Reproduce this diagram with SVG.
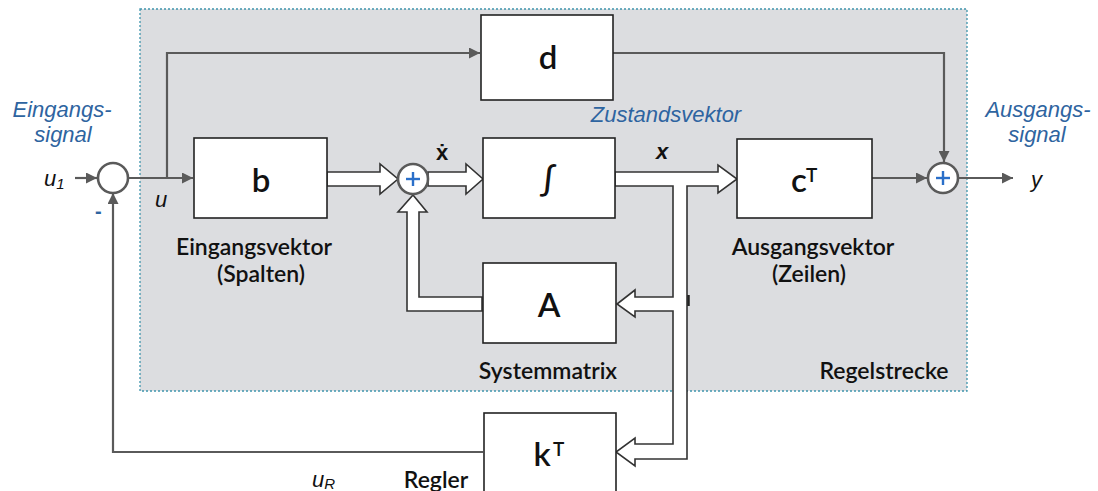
<svg xmlns="http://www.w3.org/2000/svg" width="1098" height="491" viewBox="0 0 1098 491">
<style>
.box{fill:#fff;stroke:#222;stroke-width:1.6}
.ln{fill:none;stroke:#5a5a5a;stroke-width:2.2}
.wide{fill:#fff;stroke:#333;stroke-width:1.6;stroke-linejoin:miter}
.sum{fill:#fff;stroke:#5a5a5a;stroke-width:2.6}
.plus{stroke:#2a6fc9;stroke-width:2.4}
.blue{font-family:"Liberation Sans",Arial,sans-serif;font-style:italic;font-size:22px;fill:#2e64a0;text-anchor:middle}
.var{font-family:"Liberation Sans",Arial,sans-serif;font-style:italic;font-size:22px;fill:#111}
.cap{font-family:Lato,"Open Sans",sans-serif;font-size:23px;fill:#111;text-anchor:middle;font-weight:600}
.big{font-family:Lato,"Open Sans",sans-serif;font-size:33px;fill:#111;text-anchor:middle;font-weight:600}
</style>
<defs>
<marker id="ah" viewBox="0 0 10 10" refX="10" refY="5" markerWidth="11" markerHeight="11" markerUnits="userSpaceOnUse" orient="auto">
<path d="M0,0 L10,5 L0,10 z" fill="#5a5a5a"/>
</marker>
</defs>
<rect x="140" y="9" width="827" height="382" fill="#dcdde0" stroke="#3f95ad" stroke-width="1.3" stroke-dasharray="2,2"/>

<g id="connectors">
<line class="ln" x1="75" y1="178" x2="97" y2="178" marker-end="url(#ah)"/>
<line class="ln" x1="127" y1="178" x2="193" y2="178" marker-end="url(#ah)"/>
<polyline class="ln" points="167,178 167,53 480,53" marker-end="url(#ah)"/>
<polyline class="ln" points="613,53 944,53 944,162" marker-end="url(#ah)"/>
<line class="ln" x1="872" y1="178" x2="927" y2="178" marker-end="url(#ah)"/>
<line class="ln" x1="958" y1="178" x2="1013" y2="178" marker-end="url(#ah)"/>
<polyline class="ln" points="483,452 113,452 113,193" marker-end="url(#ah)"/>
<path class="wide" d="M327,172 H380 V164 L398,179 L380,194 V186 H327 Z"/>
<path class="wide" d="M428,172 H466 V164 L483,179 L466,194 V186 H428 Z"/>
<path class="wide" d="M482,297 H419 V212 H427 L413,195 L398,212 H407 V311 H482 Z"/>
<path class="wide" d="M615,172 H718 V165 L737,179 L718,193 V186 H687 V459 H635 V466 L616,452 L635,438 V444 H673 V311 H635 V317 L617,304 L635,290 V297 H673 V186 H615 Z"/>
<line x1="688.5" y1="295" x2="688.5" y2="306" stroke="#222" stroke-width="2.5"/>
</g>

<g id="sum1">
<circle class="sum" cx="113" cy="178" r="15"/>
</g>
<g id="sum2">
<circle class="sum" cx="413" cy="179" r="15"/>
<line class="plus" x1="406" y1="179" x2="420" y2="179"/>
<line class="plus" x1="413" y1="172" x2="413" y2="186"/>
</g>
<g id="sum3">
<circle class="sum" cx="943" cy="178" r="15"/>
<line class="plus" x1="936" y1="178" x2="950" y2="178"/>
<line class="plus" x1="943" y1="171" x2="943" y2="185"/>
</g>

<g id="node-d">
<rect class="box" x="481" y="15" width="132" height="85"/>
<text class="big" x="548" y="69">d</text>
</g>
<g id="node-b">
<rect class="box" x="194" y="138" width="133" height="80"/>
<text class="big" x="261" y="192">b</text>
</g>
<g id="node-int">
<rect class="box" x="483" y="138" width="132" height="80"/>
<text class="big" x="548" y="191">∫</text>
</g>
<g id="node-c">
<rect class="box" x="737" y="139" width="135" height="79"/>
<text class="big" x="799" y="192">c</text>
<text x="806" y="182" style="font-family:Lato,sans-serif;font-size:19px;font-weight:600;fill:#111">T</text>
</g>
<g id="node-A">
<rect class="box" x="483" y="263" width="133" height="80"/>
<text class="big" x="549" y="317">A</text>
</g>
<g id="node-k">
<rect class="box" x="484" y="413" width="132" height="90"/>
<text class="big" x="542" y="466">k</text>
<text x="553" y="456" style="font-family:Lato,sans-serif;font-size:19px;font-weight:600;fill:#111">T</text>
</g>

<g id="labels">
<text class="blue" x="62" y="117">Eingangs-</text>
<text class="blue" x="63" y="142">signal</text>
<text class="blue" x="1038" y="117">Ausgangs-</text>
<text class="blue" x="1037" y="142">signal</text>
<text class="blue" x="666" y="122">Zustandsvektor</text>
<text class="var" x="44" y="186">u<tspan font-size="15" dy="3">1</tspan></text>
<text x="95" y="218" style="font-family:'Liberation Sans',sans-serif;font-size:20px;font-weight:bold;fill:#2e64a0">-</text>
<text class="var" x="155" y="207">u</text>
<text x="436" y="160" style="font-family:'Liberation Sans',sans-serif;font-size:22px;font-weight:bold;fill:#111">ẋ</text>
<text class="var" x="656" y="159" font-weight="bold">x</text>
<text class="var" x="1031" y="187">y</text>
<text class="var" x="312" y="487">u<tspan font-size="15" dy="2">R</tspan></text>
<text class="cap" x="254" y="255">Eingangsvektor</text>
<text class="cap" x="261" y="282">(Spalten)</text>
<text class="cap" x="813" y="255">Ausgangsvektor</text>
<text class="cap" x="809" y="282">(Zeilen)</text>
<text class="cap" x="548" y="379">Systemmatrix</text>
<text class="cap" x="884" y="379">Regelstrecke</text>
<text class="cap" x="436" y="488">Regler</text>
</g>
</svg>
